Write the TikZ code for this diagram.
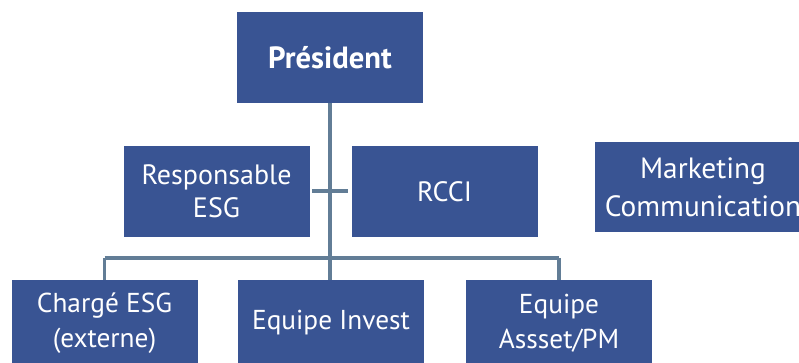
\documentclass[tikz,border=0pt]{standalone}
\usepackage{fontspec}
\setmainfont{PT Sans}
\definecolor{bleuposte}{RGB}{57,84,147}
\definecolor{grislien}{RGB}{98,125,150}

\begin{document}
\begin{tikzpicture}[x=0.75pt,y=-0.75pt,
  poste/.style={fill=bleuposte,text=white,align=center,inner sep=0pt,
    minimum width=139.5pt,minimum height=68pt,
    font=\fontsize{21}{25}\selectfont},
  equipe/.style={poste,minimum height=64.5pt,font=\fontsize{20.5}{26}\selectfont},
  lien/.style={draw=grislien,line width=2.4pt}]

\clip (0,0) rectangle (799,363);

% direction
\node[poste,font=\fontsize{23}{26}\selectfont\bfseries] (pres) at (330,57.5) {Président};

% rattachements
\node[poste] (resp) at (216.5,191.5) {Responsable\\ESG};
\node[poste] (rcci) at (444.5,191.5) {RCCI};
\node[poste,minimum width=162pt,minimum height=67.5pt,font=\fontsize{22}{28.5}\selectfont] (mkt) at (703,187) {Marketing\\Communication};

% equipes
\node[equipe] (charge) at (104.5,323) {Chargé ESG\\(externe)};
\node[equipe] (invest) at (331,323) {Equipe Invest};
\node[equipe] (asset) at (559,323) {Equipe\\Assset/PM};

% liens
\coordinate (barre) at (pres.south |- 0,258);
\coordinate (stubg) at (312,191);
\coordinate (stubd) at (348,191);
\draw[lien] (pres.south) -- (pres.south |- invest.north);
\draw[lien] (stubg) -- (stubd);
\draw[lien] (charge.north |- barre) -- (asset.north |- barre);
\draw[lien] (charge.north |- barre) -- (charge.north);
\draw[lien] (asset.north |- barre) -- (asset.north);

\end{tikzpicture}
\end{document}
